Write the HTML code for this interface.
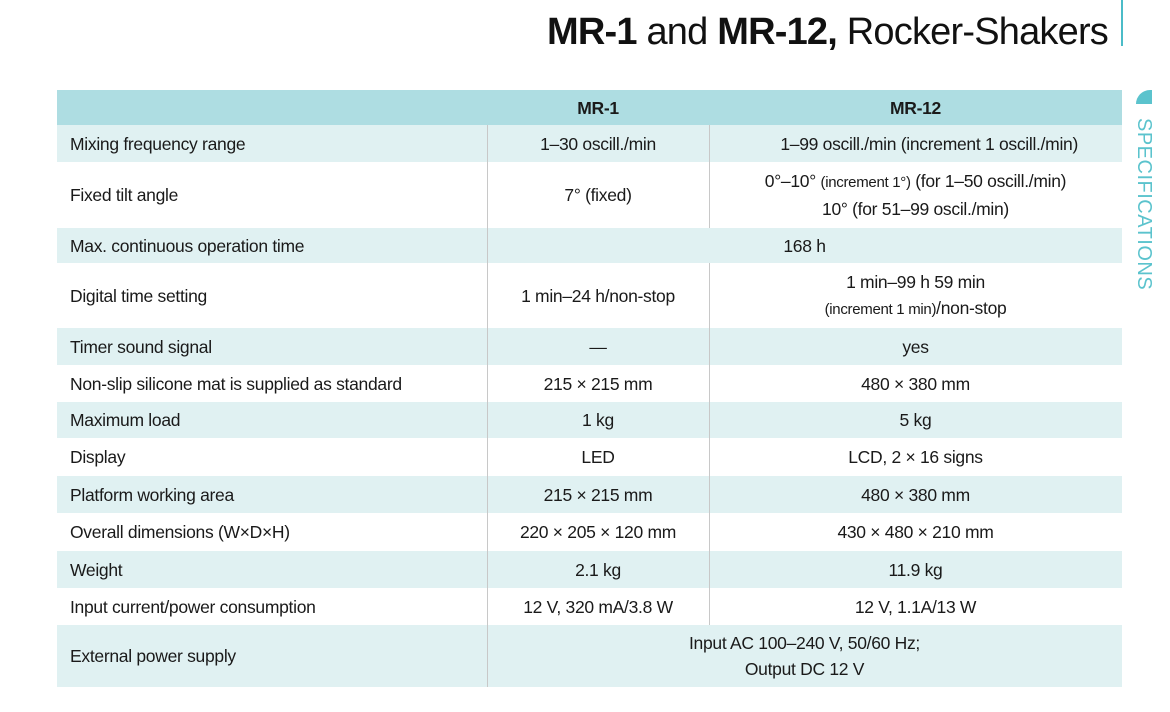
<!DOCTYPE html>
<html><head><meta charset="utf-8">
<style>
body{margin:0;width:1170px;height:712px;background:#fff;position:relative;overflow:hidden;font-family:"Liberation Sans",Arial,sans-serif;color:#1a1a1a}
.a{position:absolute}
.row{position:absolute;left:57px;width:1065px}
.c{position:absolute;display:flex;align-items:center;font-size:17.5px;line-height:26px;letter-spacing:-0.3px}
.c>div{width:100%}
.l{left:13px}
.m{left:430px;width:222px;justify-content:center;text-align:center}
.r{left:652px;width:413px;justify-content:center;text-align:center}
.s{left:430px;width:635px;justify-content:center;text-align:center}
.vl{position:absolute;top:0;bottom:0;width:1px;background:#c8c8c8}
small{font-size:15px}
</style></head><body>
<div class="a" style="right:62px;top:11px;font-size:38px;white-space:nowrap;letter-spacing:-0.8px;color:#111"><b>MR-1</b> and <b>MR-12,</b> Rocker-Shakers</div>
<div class="a" style="left:1121px;top:0;width:2px;height:46px;background:#4bbcc8"></div>
<div class="a" style="left:1136px;top:90px;width:16px;height:14px;background:#5bc3cd;border-radius:14px 0 0 0"></div>
<div class="a" style="left:1132px;top:118px;width:24px;height:184px;"><div style="position:absolute;left:24px;top:0;transform-origin:0 0;transform:rotate(90deg);font-size:20px;letter-spacing:0.5px;color:#5bc3cd;white-space:nowrap;line-height:24px">SPECIFICATIONS</div></div>

<div id="t"></div>
<script>
const rows=[
 [125,162,'Mixing frequency range','1–30 oscill./min','&nbsp;&nbsp;&nbsp;&nbsp;&nbsp;&nbsp;1–99 oscill./min (increment 1 oscill./min)'],
 [162,228,'Fixed tilt angle','7° (fixed)','0°–10° <small>(increment 1°)</small> (for 1–50 oscill./min)<br>10° (for 51–99 oscil./min)'],
 [228,263,'Max. continuous operation time',null,'168 h'],
 [263,328,'Digital time setting','1 min–24 h/non-stop','1 min–99 h 59 min<br><small>(increment 1 min)</small>/non-stop'],
 [328,365,'Timer sound signal','—','yes'],
 [365,402,'Non-slip silicone mat is supplied as standard','215 × 215 mm','480 × 380 mm'],
 [402,438,'Maximum load','1 kg','5 kg'],
 [438,476,'Display','LED','LCD, 2 × 16 signs'],
 [476,513,'Platform working area','215 × 215 mm','480 × 380 mm'],
 [513,551,'Overall dimensions (W×D×H)','220 × 205 × 120 mm','430 × 480 × 210 mm'],
 [551,588,'Weight','2.1 kg','11.9 kg'],
 [588,625,'Input current/power consumption','12 V, 320 mA/3.8 W','12 V, 1.1A/13 W'],
 [625,687,'External power supply',null,'Input AC 100–240 V, 50/60 Hz;<br>Output DC 12 V']
];
const t=document.getElementById('t');
let h='<div class="row" style="top:90px;height:35px;background:#aedde2"><div class="c m" style="height:35px;font-weight:bold"><div>MR-1</div></div><div class="c r" style="height:35px;font-weight:bold"><div>MR-12</div></div></div>';
rows.forEach((r,i)=>{
 const [y0,y1,a,b,c]=r,H=y1-y0,bg=i%2==0?'#e0f1f2':'#fff';
 h+=`<div class="row" style="top:${y0}px;height:${H}px;background:${bg}">`;
 h+=`<div class="c l" style="height:${H}px"><div>${a}</div></div>`;
 h+=`<div class="vl" style="left:430px"></div>`;
 if(b===null){h+=`<div class="c s" style="height:${H}px"><div>${c}</div></div>`;}
 else{h+=`<div class="c m" style="height:${H}px"><div>${b}</div></div><div class="vl" style="left:652px"></div><div class="c r" style="height:${H}px"><div>${c}</div></div>`;}
 h+='</div>';
});
t.innerHTML=h;
</script>
</body></html>
